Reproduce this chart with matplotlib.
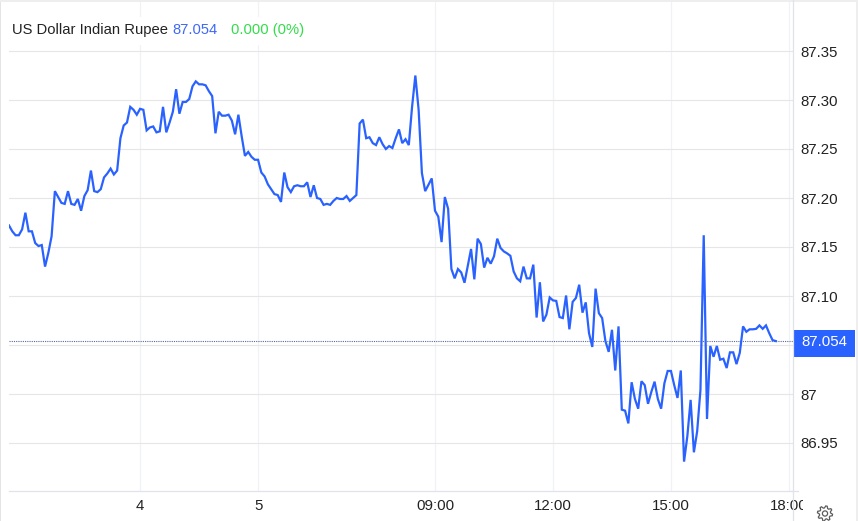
import numpy as np
import matplotlib
matplotlib.use("Agg")
import matplotlib.pyplot as plt
from matplotlib.lines import Line2D
from matplotlib.patches import Rectangle, Polygon, Circle
from matplotlib.transforms import Affine2D

plt.rcParams['font.family'] = ['Liberation Sans', 'DejaVu Sans']

W, H = 858, 521

series_name = "US Dollar Indian Rupee"
last_price = 87.054
change_label = "0.000 (0%)"
interval_minutes = 5

prices = [
    87.172, 87.166, 87.162, 87.162, 87.168, 87.185, 87.166, 87.166, 87.154, 87.151,
    87.152, 87.130, 87.144, 87.161, 87.207, 87.201, 87.195, 87.194, 87.207, 87.194,
    87.193, 87.199, 87.187, 87.202, 87.208, 87.228, 87.207, 87.206, 87.209, 87.221,
    87.225, 87.230, 87.224, 87.228, 87.261, 87.274, 87.277, 87.293, 87.290, 87.285,
    87.291, 87.290, 87.269, 87.272, 87.273, 87.267, 87.268, 87.293, 87.267, 87.277,
    87.288, 87.311, 87.286, 87.298, 87.298, 87.301, 87.314, 87.319, 87.316, 87.316,
    87.315, 87.309, 87.304, 87.266, 87.288, 87.284, 87.284, 87.285, 87.279, 87.265,
    87.285, 87.263, 87.243, 87.247, 87.242, 87.239, 87.239, 87.226, 87.222, 87.214,
    87.209, 87.204, 87.203, 87.196, 87.226, 87.211, 87.206, 87.212, 87.213, 87.212,
    87.212, 87.216, 87.201, 87.213, 87.200, 87.199, 87.193, 87.194, 87.193, 87.197,
    87.200, 87.199, 87.199, 87.202, 87.197, 87.200, 87.203, 87.276, 87.280, 87.261,
    87.262, 87.256, 87.254, 87.262, 87.255, 87.250, 87.253, 87.251, 87.261, 87.270,
    87.256, 87.260, 87.254, 87.293, 87.325, 87.290, 87.2255, 87.207, 87.2136, 87.220,
    87.187, 87.181, 87.155, 87.201, 87.189, 87.1275, 87.118, 87.1275, 87.124, 87.1135,
    87.131, 87.148, 87.117, 87.1585, 87.153, 87.129, 87.139, 87.133, 87.1405, 87.1585,
    87.149, 87.1455, 87.1435, 87.141, 87.125, 87.118, 87.115, 87.130, 87.118, 87.118,
    87.132, 87.078, 87.114, 87.074, 87.081, 87.0985, 87.0955, 87.095, 87.0785, 87.0775,
    87.1005, 87.066, 87.094, 87.098, 87.1115, 87.083, 87.0935, 87.062, 87.048, 87.1075,
    87.0825, 87.0775, 87.054, 87.043, 87.0655, 87.024, 87.069, 86.984, 86.983, 86.970,
    87.012, 86.995, 86.985, 87.013, 87.009, 86.990, 87.002, 87.0126, 86.995, 86.985,
    87.011, 87.0235, 87.0235, 87.009, 86.996, 87.024, 86.931, 86.957, 86.994, 86.9405,
    86.962, 87.004, 87.162, 86.9745, 87.049, 87.038, 87.049, 87.035, 87.036, 87.0265,
    87.0425, 87.0425, 87.0305, 87.042, 87.069, 87.0635, 87.066, 87.066, 87.0665, 87.070,
    87.0665, 87.070, 87.062, 87.055, 87.054,
]

y_ticks = [86.95, 87.0, 87.05, 87.10, 87.15, 87.20, 87.25, 87.30, 87.35]
y_tick_labels = ["86.95", "87", "", "87.10", "87.15", "87.20", "87.25", "87.30", "87.35"]
x_tick_hours = [200 / 60, 380 / 60, 650 / 60, 830 / 60, 1010 / 60, 1190 / 60]
x_tick_labels = ["4", "5", "09:00", "12:00", "15:00", "18:00"]

BLUE = "#2962ff"
GRID_H = "#e6e6e6"
GRID_V = "#f0f2f6"
AXIS = "#e0e3eb"
FRAME = "#e4e4e4"
TEXT = "#222222"

fig = plt.figure(figsize=(W / 100, H / 100), dpi=100, facecolor="white")
px = Affine2D().scale(1 / W, -1 / H).translate(0, 1) + fig.transFigure

ax = fig.add_axes([9 / W, (H - 491) / H, 784 / W, 489 / H])
hours = np.arange(len(prices)) * interval_minutes / 60
ax.set_xlim(0, 784 / 3.277 * interval_minutes / 60)
ax.set_ylim(87 - 97 / 980, 87 + 392 / 980)
ax.set_facecolor("white")

ax.yaxis.tick_right()
ax.set_yticks(y_ticks, y_tick_labels)
ax.set_xticks(x_tick_hours, x_tick_labels)
ax.tick_params(axis="y", length=0, pad=5, labelsize=10.8, labelcolor=TEXT)
ax.tick_params(axis="x", length=0, pad=6, labelsize=10.8, labelcolor=TEXT)
ax.grid(axis="y", color=GRID_H, lw=0.8, zorder=0)
ax.grid(axis="x", color=GRID_V, lw=0.9, zorder=0)
ax.set_axisbelow(True)
for side in ("top", "left", "right"):
    ax.spines[side].set_visible(False)
ax.spines["bottom"].set_color(AXIS)
ax.spines["bottom"].set_linewidth(0.9)

ax.axhline(last_price, color="#5a6b9a", lw=0.8, ls=(0, (1, 1)), zorder=2)
ax.plot(hours, prices, color=BLUE, lw=1.6, solid_joinstyle="miter", zorder=3)

# Header background hides the gridlines behind the legend text
ax.add_patch(Rectangle((9, 17), 300, 28, transform=px, fc="white", ec="none", zorder=4))
ax.text(12, 30, series_name, transform=px, color=TEXT, fontsize=10.6, va="center", zorder=5)
ax.text(172, 30, f"{last_price:.3f}", transform=px, color="#3f68f5", fontsize=10.6, va="center", zorder=5)
ax.text(231, 30, change_label, transform=px, color="#33dd4a", fontsize=10.6, va="center", zorder=5)

# Right axis, frame strips
fig.add_artist(Line2D([793, 793], [0, 521], transform=px, color=AXIS, lw=0.9))
fig.add_artist(Line2D([791, 798], [491, 491], transform=px, color=AXIS, lw=0.9))
fig.add_artist(Rectangle((0, 0), 1.3, H, transform=px, fc=FRAME, ec="none"))
fig.add_artist(Rectangle((0, 0), W, 2, transform=px, fc="#eeeeee", ec="none"))
fig.add_artist(Rectangle((856, 0), 2, H, transform=px, fc="#eeeeee", ec="none"))

# Last-price tag
fig.add_artist(Rectangle((794, 330), 61, 27, transform=px, fc=BLUE, ec="none"))
fig.text(824.5, 342.5, f"{last_price:.3f}", transform=px, color="white", fontsize=10.8, ha="center", va="center")

# Clip of the final time label by the settings panel
fig.add_artist(Rectangle((802.5, 494), 52, 27, transform=px, fc="white", ec="none", zorder=6))

# Settings gear
cx, cy = 825, 513.5
teeth = 8
ang = np.linspace(0, 2 * np.pi, teeth * 4, endpoint=False) + np.pi / 8 - np.pi / 16 * 1.5
rad = np.tile([7.6, 7.6, 5.6, 5.6], teeth)
fig.add_artist(Polygon(np.c_[cx + rad * np.cos(ang), cy + rad * np.sin(ang)], closed=True,
                       transform=px, fc="none", ec="#5c5c5c", lw=0.9, zorder=7))
fig.add_artist(Circle((cx, cy), 2.6, transform=px, fc="none", ec="#5c5c5c", lw=0.9, zorder=7))

fig.savefig("out.png", dpi=100)
